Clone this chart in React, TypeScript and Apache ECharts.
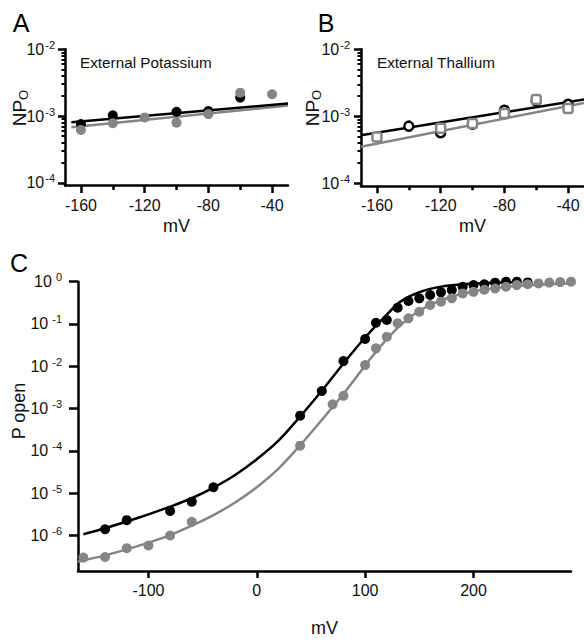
import React, { useEffect, useRef } from "react";
import * as echarts from "echarts";

// ---------- Panel A : External Potassium ----------
const aVolts = [-160, -140, -120, -100, -80, -60, -40];
const aBlackNPo = [7.6e-4, 1.03e-3, null, 1.16e-3, 1.19e-3, 1.89e-3, null];
const aGrayNPo = [6.2e-4, 7.8e-4, 9.55e-4, 7.96e-4, 1.07e-3, 2.24e-3, 2.12e-3];
const aFitVolts = [-166, -30];
const aBlackFit = [8.07e-4, 1.54e-3];
const aGrayFit = [6.8e-4, 1.44e-3];

// ---------- Panel B : External Thallium ----------
const bVolts = [-160, -140, -120, -100, -80, -60, -40];
const bBlackNPo = [null, 7.1e-4, 5.65e-4, 7.6e-4, 1.23e-3, 1.69e-3, 1.51e-3];
const bGrayNPo = [4.9e-4, null, 6.6e-4, 7.8e-4, 1.1e-3, 1.77e-3, 1.3e-3];
const bFitVolts = [-170, -30];
const bBlackFit = [5.2e-4, 1.78e-3];
const bGrayFit = [3.5e-4, 1.58e-3];

// ---------- Panel C : P open vs mV ----------
const cBlackVolts = [-140, -120, -80, -60, -40, 40, 60, 80, 100, 110, 120, 130, 140, 150, 160, 170, 180, 190, 200, 210, 220, 230, 240, 250];
const cBlackP = [1.4e-6, 2.3e-6, 3.8e-6, 6.3e-6, 1.38e-5, 6.8e-4, 2.6e-3, 1.33e-2, 4.42e-2, 0.107, 0.124, 0.243, 0.35, 0.405, 0.485, 0.56, 0.64, 0.76, 0.83, 0.87, 0.95, 1.0, 1.0, 0.96];
const cGrayVolts = [-160, -140, -120, -100, -80, -60, 40, 70, 80, 100, 110, 120, 130, 140, 150, 160, 170, 180, 190, 200, 210, 220, 230, 240, 250, 260, 270, 280, 290];
const cGrayP = [3.0e-7, 3.1e-7, 5.0e-7, 5.8e-7, 1.0e-6, 2.1e-6, 1.33e-4, 1.26e-3, 2.0e-3, 1.07e-2, 2.66e-2, 5.0e-2, 0.104, 0.136, 0.195, 0.281, 0.337, 0.405, 0.525, 0.575, 0.645, 0.69, 0.76, 0.83, 0.87, 0.91, 0.955, 0.98, 1.0];
const cBlackFitVolts = [-160, -140, -120, -100, -80, -60, -40, -20, 0, 20, 40, 60, 80, 90, 100, 110, 120, 130, 140, 150, 160, 170, 180, 200, 220, 240];
const cBlackFitP = [1.07e-6, 1.48e-6, 2.14e-6, 3.16e-6, 4.79e-6, 7.59e-6, 1.35e-5, 2.69e-5, 6.31e-5, 1.74e-4, 6.46e-4, 2.63e-3, 1.17e-2, 2.4e-2, 4.79e-2, 9.12e-2, 0.166, 0.302, 0.437, 0.562, 0.676, 0.759, 0.822, 0.902, 0.944, 0.966];
const cGrayFitVolts = [-165, -140, -120, -100, -80, -60, -40, -20, 0, 20, 40, 60, 80, 90, 100, 110, 120, 130, 140, 150, 160, 170, 180, 200, 220, 240, 260, 290];
const cGrayFitP = [2.4e-7, 3.39e-7, 4.68e-7, 6.76e-7, 1.02e-6, 1.7e-6, 3.02e-6, 6.03e-6, 1.38e-5, 3.8e-5, 1.35e-4, 5.37e-4, 2.24e-3, 4.79e-3, 1.05e-2, 2.19e-2, 4.37e-2, 8.13e-2, 0.135, 0.204, 0.282, 0.363, 0.447, 0.589, 0.708, 0.794, 0.851, 0.912];

// ---------- Tick labels ----------
const abMajorVolts = [-160, -120, -80, -40];
const abMinorVolts = [-140, -100, -60];
const abDecades = [-4, -3, -2];
const minorMultipliers = [2, 3, 4, 5, 6, 7, 8, 9];
const cTickVolts = [-100, 0, 100, 200];
const cDecades = [-6, -5, -4, -3, -2, -1, 0];

const FONT = "'Liberation Sans', Arial, Helvetica, sans-serif";
const GRAY = "#858585";
const TXT = "#111";

const pairs = (xs: number[], ys: (number | null)[]) =>
  xs
    .map((x, i) => (ys[i] == null ? null : [x, Math.log10(ys[i] as number)]))
    .filter((p) => p !== null);

const minorLogs = (decades: number[]) => {
  const out: number[] = [];
  for (let i = 0; i < decades.length - 1; i++) {
    minorMultipliers.forEach((m) => out.push(decades[i] + Math.log10(m)));
  }
  return out;
};

const powLabel = (v: number) => `{b|10}{s|${Math.round(v)}}`;
const powRich = (gap: number) => ({
  b: { fontSize: 16, fontFamily: FONT, color: TXT, lineHeight: 20 },
  s: { fontSize: 11, fontFamily: FONT, color: TXT, lineHeight: 12, verticalAlign: "top", padding: [0, 0, 0, gap] },
});

const lineStyle = { color: "#000", width: 2.5 };

function App() {
  const ref = useRef<HTMLDivElement>(null);
  useEffect(() => {
    if (!ref.current) return;
    const chart = echarts.init(ref.current, undefined, { renderer: "svg" });

    const xMajor = (gridIndex: number, min: number, max: number, ticks: number[], name: string, nameGap: number, len: number, margin: number) => ({
      type: "value",
      gridIndex,
      position: "bottom",
      min,
      max,
      name,
      nameLocation: "middle",
      nameGap,
      nameTextStyle: { fontSize: 18, fontFamily: FONT, color: TXT },
      axisLine: { show: true, onZero: false, lineStyle },
      axisTick: { show: true, length: len, lineStyle, customValues: ticks },
      axisLabel: { show: true, customValues: ticks, fontSize: 16, fontFamily: FONT, color: TXT, margin },
      splitLine: { show: false },
    });
    const xMinor = (gridIndex: number, min: number, max: number, ticks: number[]) => ({
      type: "value",
      gridIndex,
      position: "bottom",
      min,
      max,
      axisLine: { show: false, onZero: false },
      axisTick: { show: true, length: 4.5, lineStyle, customValues: ticks },
      axisLabel: { show: false },
      splitLine: { show: false },
    });
    const yMajor = (gridIndex: number, min: number, max: number, ticks: number[], len: number, margin: number, gap: number) => ({
      type: "value",
      gridIndex,
      position: "left",
      min,
      max,
      axisLine: { show: true, onZero: false, lineStyle },
      axisTick: { show: true, length: len, lineStyle, customValues: ticks },
      axisLabel: { show: true, customValues: ticks, formatter: powLabel, rich: powRich(gap), margin },
      splitLine: { show: false },
    });
    const yMinor = (gridIndex: number, min: number, max: number, ticks: number[]) => ({
      type: "value",
      gridIndex,
      position: "left",
      min,
      max,
      axisLine: { show: false, onZero: false },
      axisTick: { show: true, length: 3.5, lineStyle: { color: "#000", width: 2 }, customValues: ticks },
      axisLabel: { show: false },
      splitLine: { show: false },
    });

    const abMinorY = minorLogs(abDecades);

    const scatter = (xi: number, yi: number, data: any[], color: string, z = 3) => ({
      type: "scatter",
      xAxisIndex: xi,
      yAxisIndex: yi,
      data,
      symbol: "circle",
      symbolSize: 10,
      itemStyle: { color, opacity: 1 },
      z,
    });
    const openMark = (xi: number, yi: number, data: any[], color: string, symbol: string, z = 3) => ({
      type: "scatter",
      xAxisIndex: xi,
      yAxisIndex: yi,
      data,
      symbol,
      symbolSize: 9,
      itemStyle: { color: "#fff", borderColor: color, borderWidth: 2.5, opacity: 1 },
      z,
    });
    const fit = (xi: number, yi: number, data: any[], color: string, smooth: number | boolean = false, z = 2) => ({
      type: "line",
      xAxisIndex: xi,
      yAxisIndex: yi,
      data,
      showSymbol: false,
      symbol: "none",
      smooth,
      lineStyle: { color, width: 2.5 },
      z,
    });

    chart.setOption({
      animation: false,
      backgroundColor: "#fff",
      grid: [
        { left: 65, top: 49.3, width: 223, height: 136.2, containLabel: false },
        { left: 361, top: 49.3, width: 224, height: 136.5, containLabel: false },
        { left: 78, top: 281.7, width: 493, height: 289.3, containLabel: false },
      ],
      xAxis: [
        xMajor(0, -170, -30, abMajorVolts, "mV", 31, 7.5, 12),
        xMinor(0, -170, -30, abMinorVolts),
        xMajor(1, -170, -30, abMajorVolts, "mV", 31, 7.5, 12),
        xMinor(1, -170, -30, abMinorVolts),
        xMajor(2, -165, 290, cTickVolts, "mV", 48, 7, 11),
      ],
      yAxis: [
        yMajor(0, -4.04, -2, abDecades, 7, 10, 1),
        yMinor(0, -4.04, -2, abMinorY),
        yMajor(1, -4.04, -2, abDecades, 7, 11, 1),
        yMinor(1, -4.04, -2, abMinorY),
        yMajor(2, -6.84, 0, cDecades, 9, 16, 4),
      ],
      graphic: [
        { type: "text", x: 21, y: 23, style: { text: "A", fontSize: 25, fontFamily: FONT, fill: "#000", align: "center", verticalAlign: "middle" } },
        { type: "text", x: 326, y: 23, style: { text: "B", fontSize: 25, fontFamily: FONT, fill: "#000", align: "center", verticalAlign: "middle" } },
        { type: "text", x: 19, y: 262.5, style: { text: "C", fontSize: 25, fontFamily: FONT, fill: "#000", align: "center", verticalAlign: "middle" } },
        { type: "text", x: 80, y: 62, style: { text: "External Potassium", fontSize: 15.3, fontFamily: FONT, fill: TXT, align: "left", verticalAlign: "middle" } },
        { type: "text", x: 377, y: 62, style: { text: "External Thallium", fontSize: 15.3, fontFamily: FONT, fill: TXT, align: "left", verticalAlign: "middle" } },
        {
          type: "text", x: 19, y: 108, rotation: Math.PI / 2,
          style: {
            text: "{n|NP}{o|O}", align: "center", verticalAlign: "middle", fill: TXT,
            rich: { n: { fontSize: 19, fontFamily: FONT, fill: TXT, lineHeight: 22 }, o: { fontSize: 13, fontFamily: FONT, fill: TXT, lineHeight: 14, verticalAlign: "bottom" } },
          },
        },
        {
          type: "text", x: 312, y: 108, rotation: Math.PI / 2,
          style: {
            text: "{n|NP}{o|O}", align: "center", verticalAlign: "middle", fill: TXT,
            rich: { n: { fontSize: 19, fontFamily: FONT, fill: TXT, lineHeight: 22 }, o: { fontSize: 13, fontFamily: FONT, fill: TXT, lineHeight: 14, verticalAlign: "bottom" } },
          },
        },
        { type: "text", x: 19, y: 411, rotation: Math.PI / 2, style: { text: "P open", fontSize: 18, fontFamily: FONT, fill: TXT, align: "center", verticalAlign: "middle" } },
      ],
      series: [
        // Panel A
        fit(0, 0, pairs(aFitVolts, aGrayFit), GRAY),
        fit(0, 0, pairs(aFitVolts, aBlackFit), "#000"),
        scatter(0, 0, pairs(aVolts, aBlackNPo), "#000", 3),
        scatter(0, 0, pairs(aVolts, aGrayNPo), GRAY, 4),
        // Panel B
        fit(2, 2, pairs(bFitVolts, bGrayFit), GRAY),
        fit(2, 2, pairs(bFitVolts, bBlackFit), "#000"),
        openMark(2, 2, pairs(bVolts, bBlackNPo), "#000", "circle", 3),
        openMark(2, 2, pairs(bVolts, bGrayNPo), GRAY, "roundRect", 4),
        // Panel C
        fit(4, 4, pairs(cBlackFitVolts, cBlackFitP), "#000", 0.3),
        scatter(4, 4, pairs(cBlackVolts, cBlackP), "#000", 3),
        fit(4, 4, pairs(cGrayFitVolts, cGrayFitP), GRAY, 0.3, 4),
        scatter(4, 4, pairs(cGrayVolts, cGrayP), GRAY, 5),
      ],
    });
    return () => chart.dispose();
  }, []);
  return <div ref={ref} style={{ position: "fixed", left: 0, top: 0, width: 584, height: 642, background: "#fff" }} />;
}

export default App;
